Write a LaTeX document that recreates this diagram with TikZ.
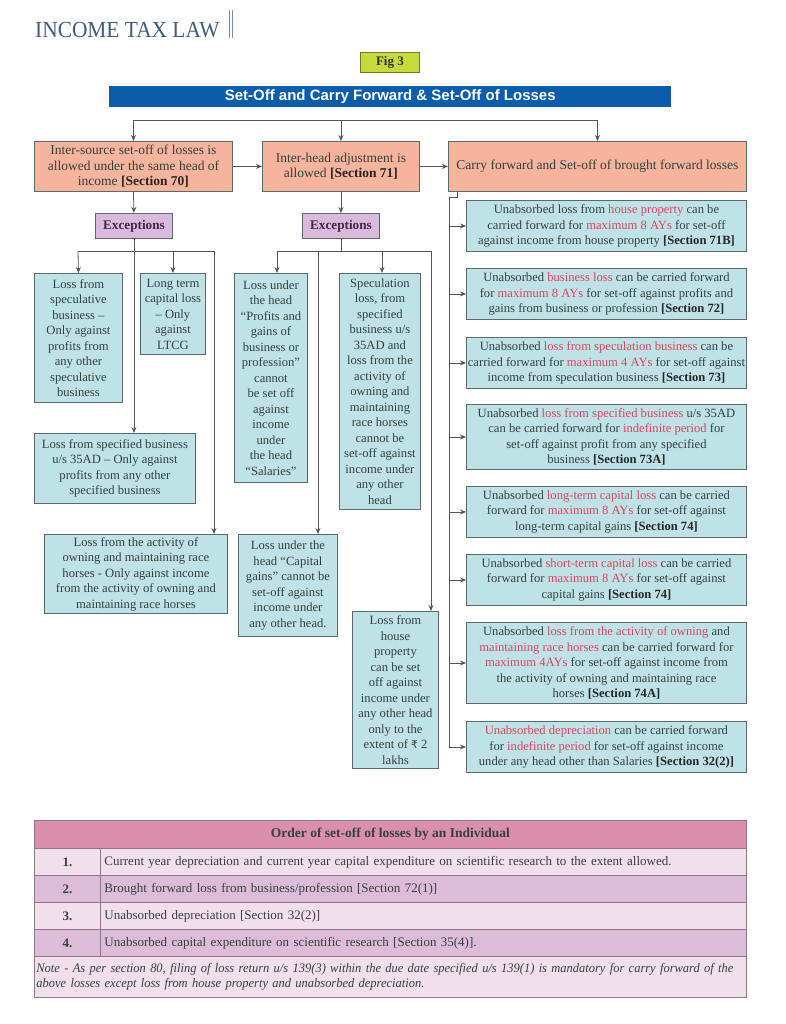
\documentclass[tikz,border=0pt]{standalone}
\usepackage{fontspec}
\setmainfont{Liberation Serif}
\newfontfamily\headfont{Liberation Serif}[FakeStretch=0.93]
\newfontfamily\barfont{Liberation Sans}
\newfontfamily\notefont{Liberation Serif}[FakeStretch=0.96]
\newfontfamily\rupfont{DejaVu Sans}
\usetikzlibrary{arrows.meta}
\definecolor{txt}{HTML}{34413F}
\definecolor{edge}{HTML}{5A6A6C}
\definecolor{wire}{HTML}{555555}
\definecolor{salmon}{HTML}{F5B49B}
\definecolor{aqua}{HTML}{BEE2E5}
\definecolor{lilac}{HTML}{DBB8DD}
\definecolor{plum}{HTML}{3E2B45}
\definecolor{redtxt}{HTML}{DE4460}
\definecolor{barblue}{HTML}{0B5CAB}
\definecolor{headblue}{HTML}{3E5C7E}
\definecolor{figfill}{HTML}{C6DA3C}
\definecolor{figedge}{HTML}{6B7A2A}
\definecolor{tabhead}{HTML}{DA90AB}
\definecolor{tablight}{HTML}{F2DFEC}
\definecolor{tabdark}{HTML}{DDBCD9}
\definecolor{tabedge}{HTML}{8A7A88}
\newcommand{\rd}[1]{\textcolor{redtxt}{#1}}
\newcommand{\sect}[1]{\textbf{\color{black!85}[Section #1]}}
\begin{document}
\begin{tikzpicture}[x=1pt,y=-1pt,>={Stealth[length=6pt,width=5pt]},
  every node/.style={anchor=north west,inner sep=2pt,align=center,text=txt,font=\fontsize{12.6}{15.5}\selectfont},
  obox/.style={draw=edge,fill=salmon,line width=0.9pt,font=\fontsize{13.5}{15.5}\selectfont},
  cbox/.style={draw=edge,fill=aqua,line width=0.9pt,inner xsep=1pt},
  xbox/.style={draw=edge,fill=lilac,line width=0.9pt,text=plum,font=\fontsize{13.2}{15}\selectfont\bfseries},
  link/.style={draw=wire,line width=0.8pt},
  cell/.style={draw=tabedge,line width=0.8pt,font=\fontsize{13}{15}\selectfont},
]
\useasboundingbox (0,0) rectangle (785,1024);

% heading
\node[anchor=base west,inner sep=0pt,text=headblue,font=\headfont\fontsize{23}{23}\selectfont] (brand) at (35,38) {INCOME TAX LAW};
\draw[headblue!70,line width=0.6pt] (229,10) -- (229,38) (232,10) -- (232,38);
\node[draw=figedge,fill=figfill,line width=0.8pt,minimum width=59,minimum height=20,text=black!80,font=\fontsize{13}{13}\selectfont\bfseries] (fig) at (360,52) {Fig 3};
\node[fill=barblue,minimum width=562,minimum height=21,text=white,font=\barfont\fontsize{15}{15}\selectfont\bfseries] (title) at (109,86) {Set-Off and Carry Forward \& Set-Off of Losses};

% first row
\node[obox,minimum width=198,minimum height=50] (intersrc) at (34,141) {Inter-source set-off of losses is\\allowed under the same head of\\income \sect{70}};
\node[obox,minimum width=157,minimum height=50] (interhead) at (262,141) {Inter-head adjustment is\\allowed \sect{71}};
\node[obox,minimum width=298,minimum height=50] (carry) at (448,141) {Carry forward and Set-off of brought forward losses};

% exceptions
\node[xbox,minimum width=77,minimum height=25] (exc1) at (95,213) {Exceptions};
\node[xbox,minimum width=77,minimum height=25] (exc2) at (302,213) {Exceptions};

% left exceptions
\node[cbox,minimum width=88,minimum height=129] (specul) at (34,273) {Loss from\\speculative\\business --\\Only against\\profits from\\any other\\speculative\\business};
\node[cbox,minimum width=65,minimum height=81] (ltcg) at (140,273) {Long term\\capital loss\\-- Only\\against\\LTCG};
\node[cbox,minimum width=161,minimum height=70] (specbiz) at (34,433) {Loss from specified business\\u/s 35AD -- Only against\\profits from any other\\specified business};
\node[cbox,minimum width=183,minimum height=79] (horses) at (44,534) {Loss from the activity of\\owning and maintaining race\\horses - Only against income\\from the activity of owning and\\maintaining race horses};

% middle exceptions
\node[cbox,minimum width=73,minimum height=209] (salary) at (234,273) {Loss under\\the head\\“Profits and\\gains of\\business or\\profession”\\cannot\\be set off\\against\\income\\under\\the head\\“Salaries”};
\node[cbox,minimum width=81,minimum height=236] (specloss) at (339,273) {Speculation\\loss, from\\specified\\business u/s\\35AD and\\loss from the\\activity of\\owning and\\maintaining\\race horses\\cannot be\\set-off against\\income under\\any other\\head};
\node[cbox,minimum width=99,minimum height=102] (capgain) at (238,534) {Loss under the\\head “Capital\\gains” cannot be\\set-off against\\income under\\any other head.};
\node[cbox,minimum width=86,minimum height=157] (house) at (352,611) {Loss from\\house\\property\\can be set\\off against\\income under\\any other head\\only to the\\extent of {\rupfont\fontsize{10.5}{12}\selectfont ₹} 2\\lakhs};

% carry forward column
\node[cbox,minimum width=280,minimum height=51] (cf71b) at (466,200) {Unabsorbed loss from \rd{house property} can be\\carried forward for \rd{maximum 8 AYs} for set-off\\against income from house property \sect{71B}};
\node[cbox,minimum width=280,minimum height=51] (cf72) at (466,268) {Unabsorbed \rd{business loss} can be carried forward\\for \rd{maximum 8 AYs} for set-off against profits and\\gains from business or profession \sect{72}};
\node[cbox,minimum width=280,minimum height=51] (cf73) at (466,337) {Unabsorbed \rd{loss from speculation business} can be\\carried forward for \rd{maximum 4 AYs} for set-off against\\income from speculation business \sect{73}};
\node[cbox,minimum width=280,minimum height=65] (cf73a) at (466,404) {Unabsorbed \rd{loss from specified business} u/s 35AD\\can be carried forward for \rd{indefinite period} for\\set-off against profit from any specified\\business \sect{73A}};
\node[cbox,minimum width=280,minimum height=51] (cf74l) at (466,486) {Unabsorbed \rd{long-term capital loss} can be carried\\forward for \rd{maximum 8 AYs} for set-off against\\long-term capital gains \sect{74}};
\node[cbox,minimum width=280,minimum height=51] (cf74s) at (466,554) {Unabsorbed \rd{short-term capital loss} can be carried\\forward for \rd{maximum 8 AYs} for set-off against\\capital gains \sect{74}};
\node[cbox,minimum width=280,minimum height=81] (cf74a) at (466,622) {Unabsorbed \rd{loss from the activity of owning} and\\\rd{maintaining race horses} can be carried forward for\\\rd{maximum 4AYs} for set-off against income from\\the activity of owning and maintaining race\\horses \sect{74A}};
\node[cbox,minimum width=280,minimum height=51] (cf32) at (466,721) {\rd{Unabsorbed depreciation} can be carried forward\\for \rd{indefinite period} for set-off against income\\under any head other than Salaries \sect{32(2)}};

% junction points
\coordinate (top) at (0,120);
\coordinate (lbar) at (78,251);
\coordinate (lend) at (214,251);
\coordinate (mbar) at (277,251);
\coordinate (mcap) at (318,251);
\coordinate (mspec) at (382,251);
\coordinate (mend) at (431,251);
\coordinate (jog) at (457,197);
\coordinate (spine) at (449,197);

% connectors
\draw[link] (intersrc.north |- top) -- (carry.north |- top);
\draw[link,->] (intersrc.north |- top) -- (intersrc.north);
\draw[link,->] (interhead.north |- top) -- (interhead.north);
\draw[link,->] (carry.north |- top) -- (carry.north);
\draw[link,->] (intersrc.east) -- (interhead.west);
\draw[link,->] (interhead.east) -- (carry.west);
\draw[link,->] (intersrc.south) -- (exc1.north);
\draw[link,->] (interhead.south) -- (exc2.north);

\draw[link] (lbar) -- (lend);
\draw[link,->] (lbar) -- (specul.north);
\draw[link,->] (ltcg.north |- lbar) -- (ltcg.north);
\draw[link,->] (exc1.south) -- (exc1.south |- specbiz.north);
\draw[link,->] (lend) -- (lend |- horses.north);

\draw[link] (mbar) -- (mend);
\draw[link] (exc2.south) -- (exc2.south |- mbar);
\draw[link,->] (mbar) -- (mbar |- salary.north);
\draw[link,->] (mspec) -- (mspec |- specloss.north);
\draw[link,->] (mcap) -- (mcap |- capgain.north);
\draw[link,->] (mend) -- (mend |- house.north);

\draw[link] (jog |- carry.south) -- (jog) -- (spine) -- (spine |- cf32.west);
\draw[link,->] (spine |- cf71b.west) -- (cf71b.west);
\draw[link,->] (spine |- cf72.west) -- (cf72.west);
\draw[link,->] (spine |- cf73.west) -- (cf73.west);
\draw[link,->] (spine |- cf73a.west) -- (cf73a.west);
\draw[link,->] (spine |- cf74l.west) -- (cf74l.west);
\draw[link,->] (spine |- cf74s.west) -- (cf74s.west);
\draw[link,->] (spine |- cf74a.west) -- (cf74a.west);
\draw[link,->] (spine |- cf32.west) -- (cf32.west);

% order of set-off table
\node[cell,fill=tabhead,minimum width=712,minimum height=28,font=\fontsize{13.5}{15}\selectfont] (thead) at (34,820) {\textbf{Order of set-off of losses by an Individual}};
\node[cell,fill=tablight,minimum width=66,minimum height=27] (no1) at (34,848) {\textbf{1.}};
\node[cell,fill=tablight,minimum width=646,minimum height=27,text width=638,align=left,inner xsep=4pt] (row1) at (100,848) {Current year depreciation and current year capital expenditure on scientific research to the extent allowed.};
\node[cell,fill=tabdark,minimum width=66,minimum height=27] (no2) at (34,875) {\textbf{2.}};
\node[cell,fill=tabdark,minimum width=646,minimum height=27,text width=638,align=left,inner xsep=4pt] (row2) at (100,875) {Brought forward loss from business/profession [Section 72(1)]};
\node[cell,fill=tablight,minimum width=66,minimum height=27] (no3) at (34,902) {\textbf{3.}};
\node[cell,fill=tablight,minimum width=646,minimum height=27,text width=638,align=left,inner xsep=4pt] (row3) at (100,902) {Unabsorbed depreciation [Section 32(2)]};
\node[cell,fill=tabdark,minimum width=66,minimum height=27] (no4) at (34,929) {\textbf{4.}};
\node[cell,fill=tabdark,minimum width=646,minimum height=27,text width=638,align=left,inner xsep=4pt] (row4) at (100,929) {Unabsorbed capital expenditure on scientific research [Section 35(4)].};
\node[cell,fill=tablight,minimum width=712,minimum height=41,text width=708,align=left,inner xsep=2pt,font=\notefont\fontsize{13}{15}\selectfont] (note) at (34,956) {\itshape Note - As per section 80, filing of loss return u/s 139(3) within the due date specified u/s 139(1) is mandatory for carry forward of the\\above losses except loss from house property and unabsorbed depreciation.};
\end{tikzpicture}
\end{document}
